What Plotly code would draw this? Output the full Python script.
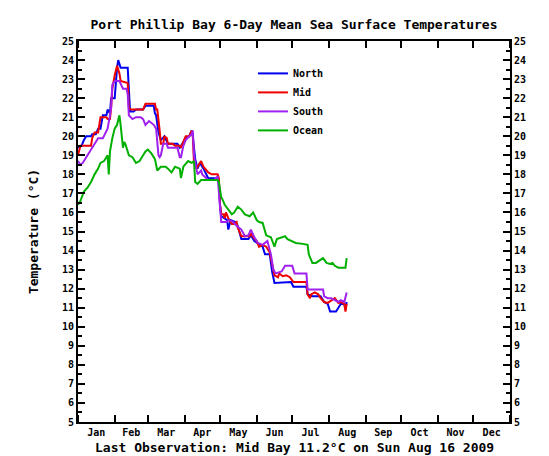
import pandas as pd
import plotly.graph_objects as go

# day-of-year offsets (0 = 1 Jan 2009) and 6-day mean SST values (deg C)
north_days = [0, 3, 5, 7, 11, 12, 15, 17, 19, 21, 24, 25, 27, 28, 31, 32, 33, 34, 36, 42,
              43, 44, 47, 49, 55, 57, 64, 65, 66, 68, 70, 73, 76, 84, 86, 88, 91, 94, 96, 97,
              99, 101, 103, 106, 110, 118, 119, 120, 121, 126, 127, 129, 133, 135, 138, 144,
              146, 149, 153, 156, 158, 162, 164, 166, 180, 182, 193, 194, 198, 205, 208, 211,
              213, 218, 220, 222, 225, 226, 227]
north_temp = [19.4, 19.5, 19.8, 20.0, 20.0, 20.1, 20.1, 20.4, 20.4, 21.1, 21.1, 21.4, 21.2, 22.0,
              22.0, 23.1, 23.6, 24.0, 23.6, 23.6, 22.5, 21.3, 21.3, 21.4, 21.4, 21.6, 21.6, 21.2,
              21.1, 20.2, 19.8, 20.0, 19.6, 19.6, 19.4, 19.6, 19.9, 20.0, 20.3, 20.0, 18.8, 18.3,
              18.6, 18.3, 17.8, 17.8, 17.7, 16.4, 15.8, 15.6, 15.1, 15.6, 15.5, 15.3, 14.6, 14.6,
              14.8, 14.5, 14.3, 14.2, 13.8, 13.8, 12.9, 12.3, 12.35, 12.1, 12.1, 11.7, 11.6, 11.6,
              11.3, 11.2, 10.8, 10.8, 11.0, 11.2, 11.2, 10.9, 11.3]

mid_days = [0, 2, 11, 12, 14, 17, 19, 24, 25, 27, 28, 29, 31, 33, 35, 36, 42, 43, 45, 55, 57,
            65, 66, 67, 69, 70, 72, 73, 75, 76, 80, 82, 86, 87, 89, 91, 94, 96, 97, 98, 100,
            102, 104, 106, 110, 113, 118, 119, 120, 121, 123, 124, 125, 127, 130, 132, 134, 135,
            138, 145, 146, 148, 151, 153, 156, 159, 162, 165, 166, 169, 170, 173, 176, 179, 182,
            193, 194, 196, 197, 200, 203, 205, 208, 211, 214, 217, 220, 222, 225, 226, 227]
mid_temp = [19.0, 19.5, 19.5, 19.9, 20.2, 20.2, 21.0, 21.0, 20.9, 20.9, 21.5, 22.5, 23.2, 23.7,
            23.3, 22.9, 22.8, 21.5, 21.4, 21.4, 21.7, 21.7, 21.4, 21.4, 20.3, 19.6, 19.6, 20.0,
            19.9, 19.6, 19.6, 19.5, 19.5, 19.4, 19.7, 20.0, 20.0, 20.3, 20.0, 18.6, 18.3, 18.5,
            18.7, 18.4, 18.1, 18.0, 18.0, 17.8, 16.4, 15.9, 15.9, 15.7, 16.0, 15.7, 15.4, 15.4,
            15.5, 15.2, 14.75, 14.75, 14.9, 14.7, 14.5, 14.2, 14.3, 14.2, 13.9, 13.0, 12.7, 12.6,
            12.8, 12.65, 12.7, 12.6, 12.35, 12.35, 11.7, 11.5, 11.7, 11.8, 11.7, 11.5, 11.3,
            11.25, 11.4, 11.5, 11.25, 11.3, 11.2, 10.8, 11.2]

south_days = [0, 2, 4, 7, 11, 14, 17, 21, 24, 25, 27, 28, 29, 31, 35, 38, 41, 42, 43, 46, 49,
              53, 55, 57, 60, 64, 66, 68, 69, 70, 72, 75, 76, 84, 86, 87, 89, 91, 94, 96, 97,
              98, 100, 101, 104, 105, 110, 115, 118, 120, 121, 125, 128, 131, 134, 138, 141, 144,
              146, 149, 152, 156, 160, 163, 165, 167, 172, 175, 181, 183, 193, 194, 207, 208,
              211, 214, 217, 220, 222, 225, 227]
south_temp = [18.7, 18.5, 18.6, 18.9, 19.3, 19.6, 19.9, 19.9, 20.3, 20.4, 21.1, 21.5, 22.7, 22.9,
              22.9, 22.5, 22.5, 22.2, 21.1, 20.9, 21.0, 21.0, 20.9, 20.6, 20.8, 20.6, 20.4, 19.0,
              18.9, 19.0, 19.6, 19.6, 19.4, 19.4, 18.9, 18.9, 19.5, 19.8, 20.0, 20.1, 20.3, 19.0,
              18.3, 18.0, 18.2, 18.0, 17.7, 17.7, 17.9, 15.9, 15.5, 15.5, 15.6, 15.5, 15.3, 15.1,
              14.75, 14.8, 15.1, 14.7, 14.4, 14.3, 14.5, 13.8, 13.0, 12.8, 12.9, 13.2, 13.2, 12.8,
              12.8, 11.95, 11.95, 11.6, 11.5, 11.5, 11.4, 11.3, 11.4, 11.3, 11.8]

ocean_days = [0, 2, 5, 8, 11, 14, 17, 19, 22, 25, 26, 27, 29, 31, 33, 35, 36, 38, 39, 40, 43,
              46, 49, 52, 54, 57, 59, 62, 65, 67, 70, 74, 76, 79, 82, 86, 87, 89, 93, 96, 98,
              99, 101, 104, 118, 119, 121, 122, 124, 127, 130, 132, 135, 138, 141, 145, 148, 151,
              153, 156, 159, 163, 166, 168, 172, 175, 177, 180, 184, 190, 194, 195, 198, 201, 204,
              207, 210, 213, 215, 217, 220, 226, 227]
ocean_temp = [16.4, 16.6, 17.1, 17.3, 17.6, 18.0, 18.3, 18.6, 18.7, 19.0, 18.0, 19.2, 19.9, 20.4,
              20.6, 21.1, 20.6, 19.4, 19.7, 19.6, 19.0, 18.9, 18.6, 18.7, 18.9, 19.2, 19.3, 19.1,
              18.8, 18.2, 18.4, 18.4, 18.3, 18.1, 18.4, 18.3, 17.8, 18.4, 18.7, 18.6, 18.7, 17.6,
              17.5, 17.7, 17.7, 17.6, 16.8, 16.7, 16.4, 16.15, 15.9, 16.0, 16.3, 16.15, 15.9, 15.8,
              16.0, 15.6, 15.5, 15.45, 14.8, 14.7, 14.2, 14.6, 14.7, 14.75, 14.6, 14.5, 14.4,
              14.35, 14.3, 13.8, 13.35, 13.35, 13.5, 13.6, 13.35, 13.3, 13.35, 13.2, 13.1, 13.1, 13.6]

year_start = pd.Timestamp("2009-01-01")


def to_dates(days):
    return year_start + pd.to_timedelta(days, unit="D")


series = [
    ("North", north_days, north_temp, "#0000ee", "y"),
    ("Mid", mid_days, mid_temp, "#ee0000", "y"),
    ("South", south_days, south_temp, "#a020f0", "y"),
    ("Ocean", ocean_days, ocean_temp, "#00b000", "y2"),  # on y2 so the right axis is drawn
]

fig = go.Figure()
for name, days, temps, colour, yax in series:
    fig.add_trace(go.Scatter(
        x=to_dates(days), y=temps, name=name, mode="lines", yaxis=yax,
        line=dict(color=colour, width=2),
    ))

font_mono = "DejaVu Sans Mono"
tick_font = dict(family=font_mono, size=10, color="black", weight="bold")
yaxis_common = dict(
    range=[5, 25], dtick=1, tick0=5, ticks="inside", ticklen=7, tickwidth=2,
    tickcolor="black", showline=True, linecolor="black", linewidth=2,
    showgrid=False, zeroline=False, tickfont=tick_font,
    minor=dict(dtick=0.5, ticks="inside", ticklen=4, tickwidth=2, tickcolor="black",
               showgrid=False),
)

fig.update_layout(
    width=549, height=456,
    margin=dict(l=70, r=47, t=33, b=42),
    paper_bgcolor="white", plot_bgcolor="white",
    title=dict(text="<b>Port Phillip Bay 6-Day Mean Sea Surface Temperatures</b>",
               x=0.5, xref="paper", y=1 - 16 / 456, yref="container", yanchor="middle",
               font=dict(family=font_mono, size=13, color="black")),
    xaxis=dict(
        type="date", range=["2009-01-01", "2010-01-01"], tick0="2009-01-01", dtick="M1",
        tickformat="%b", ticklabelmode="period", ticks="inside", ticklen=7, tickwidth=2,
        tickcolor="black", showline=True, linecolor="black", linewidth=2, mirror="ticks",
        showgrid=False, zeroline=False, tickfont=tick_font,
    ),
    yaxis=dict(title=dict(text="<b>Temperature (°C)</b>", standoff=20,
                          font=dict(family=font_mono, size=13, color="black")),
               **yaxis_common),
    yaxis2=dict(overlaying="y", side="right", matches="y", **yaxis_common),
    legend=dict(x=0.405, y=0.953, xanchor="left", yanchor="top", bgcolor="rgba(0,0,0,0)",
                font=dict(family=font_mono, size=10, color="black", weight="bold"),
                tracegroupgap=0, itemwidth=30),
    showlegend=True,
)

fig.add_annotation(
    text="<b>Last Observation: Mid Bay 11.2°C on Sun Aug 16 2009</b>",
    xref="paper", yref="paper", x=0.5, y=-0.068, yanchor="middle", showarrow=False,
    font=dict(family=font_mono, size=13, color="black"),
)

fig.write_html("out.html")
